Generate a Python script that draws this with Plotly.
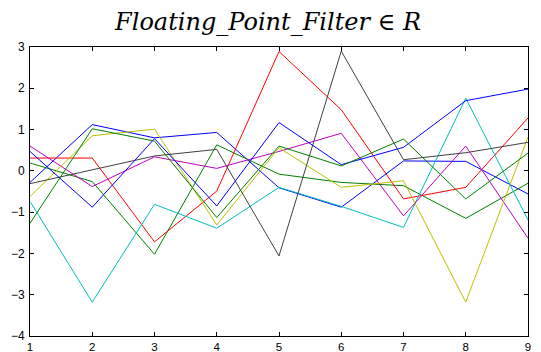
import plotly.graph_objects as go

x_vals = [1, 2, 3, 4, 5, 6, 7, 8, 9]

blue_a = [-0.28, 1.12, 0.80, 0.93, -0.41, -0.88, 0.24, 0.23, -0.56]
green_a = [0.19, -0.26, -2.02, 0.63, -0.08, -0.28, -0.36, -1.15, -0.30]
red = [0.31, 0.31, -1.72, -0.49, 2.89, 1.48, -0.68, -0.40, 1.28]
cyan = [-0.74, -3.18, -0.81, -1.39, -0.40, -0.86, -1.37, 1.76, -1.19]
magenta = [0.60, -0.38, 0.34, 0.06, 0.47, 0.91, -1.09, 0.60, -1.63]
yellow = [-0.62, 0.85, 1.01, -1.31, 0.56, -0.40, -0.24, -3.18, 0.82]
black = [-0.31, 0.02, 0.36, 0.52, -2.06, 2.90, 0.27, 0.44, 0.69]
blue_b = [0.47, -0.88, 0.78, -0.85, 1.17, 0.15, 0.57, 1.70, 1.98]
green_b = [-1.27, 1.02, 0.72, -1.13, 0.60, 0.12, 0.77, -0.68, 0.43]

series = [blue_a, green_a, red, cyan, magenta, yellow, black, blue_b, green_b]
colors = ["#0000FF", "#008000", "#FF0000", "#00BFBF", "#BF00BF",
          "#BFBF00", "#404040", "#0000FF", "#008000"]

x_ticks = [1, 2, 3, 4, 5, 6, 7, 8, 9]
y_ticks = [-4, -3, -2, -1, 0, 1, 2, 3]
title_text = "Floating_Point_Filter ∈ R"

fig = go.Figure()
for s, c in zip(series, colors):
    fig.add_trace(go.Scatter(x=x_vals, y=s, mode="lines",
                             line=dict(color=c, width=1), showlegend=False,
                             hoverinfo="skip"))

axis_common = dict(showgrid=False, zeroline=False, showline=True,
                   linecolor="black", linewidth=1, mirror="ticks",
                   ticks="inside", ticklen=4, tickcolor="black", automargin=False)

fig.update_layout(
    width=533, height=352,
    margin=dict(l=22, r=13, t=39, b=24),
    paper_bgcolor="white", plot_bgcolor="white",
    title=dict(text=title_text, x=0.488, xanchor="center", y=1 - 14 / 352, yanchor="middle",
               font=dict(family="DejaVu Serif", size=24, color="black", style="italic")),
    xaxis=dict(range=[1, 9], tickvals=x_ticks, ticklabelstandoff=0,
               tickfont=dict(family="Liberation Sans, Arial", size=11.5, color="black"),
               **axis_common),
    yaxis=dict(range=[-4, 3], tickvals=y_ticks, ticklabelstandoff=2,
               tickfont=dict(family="Liberation Sans, Arial", size=12, color="black"),
               **axis_common),
)

fig.write_html("out.html")
